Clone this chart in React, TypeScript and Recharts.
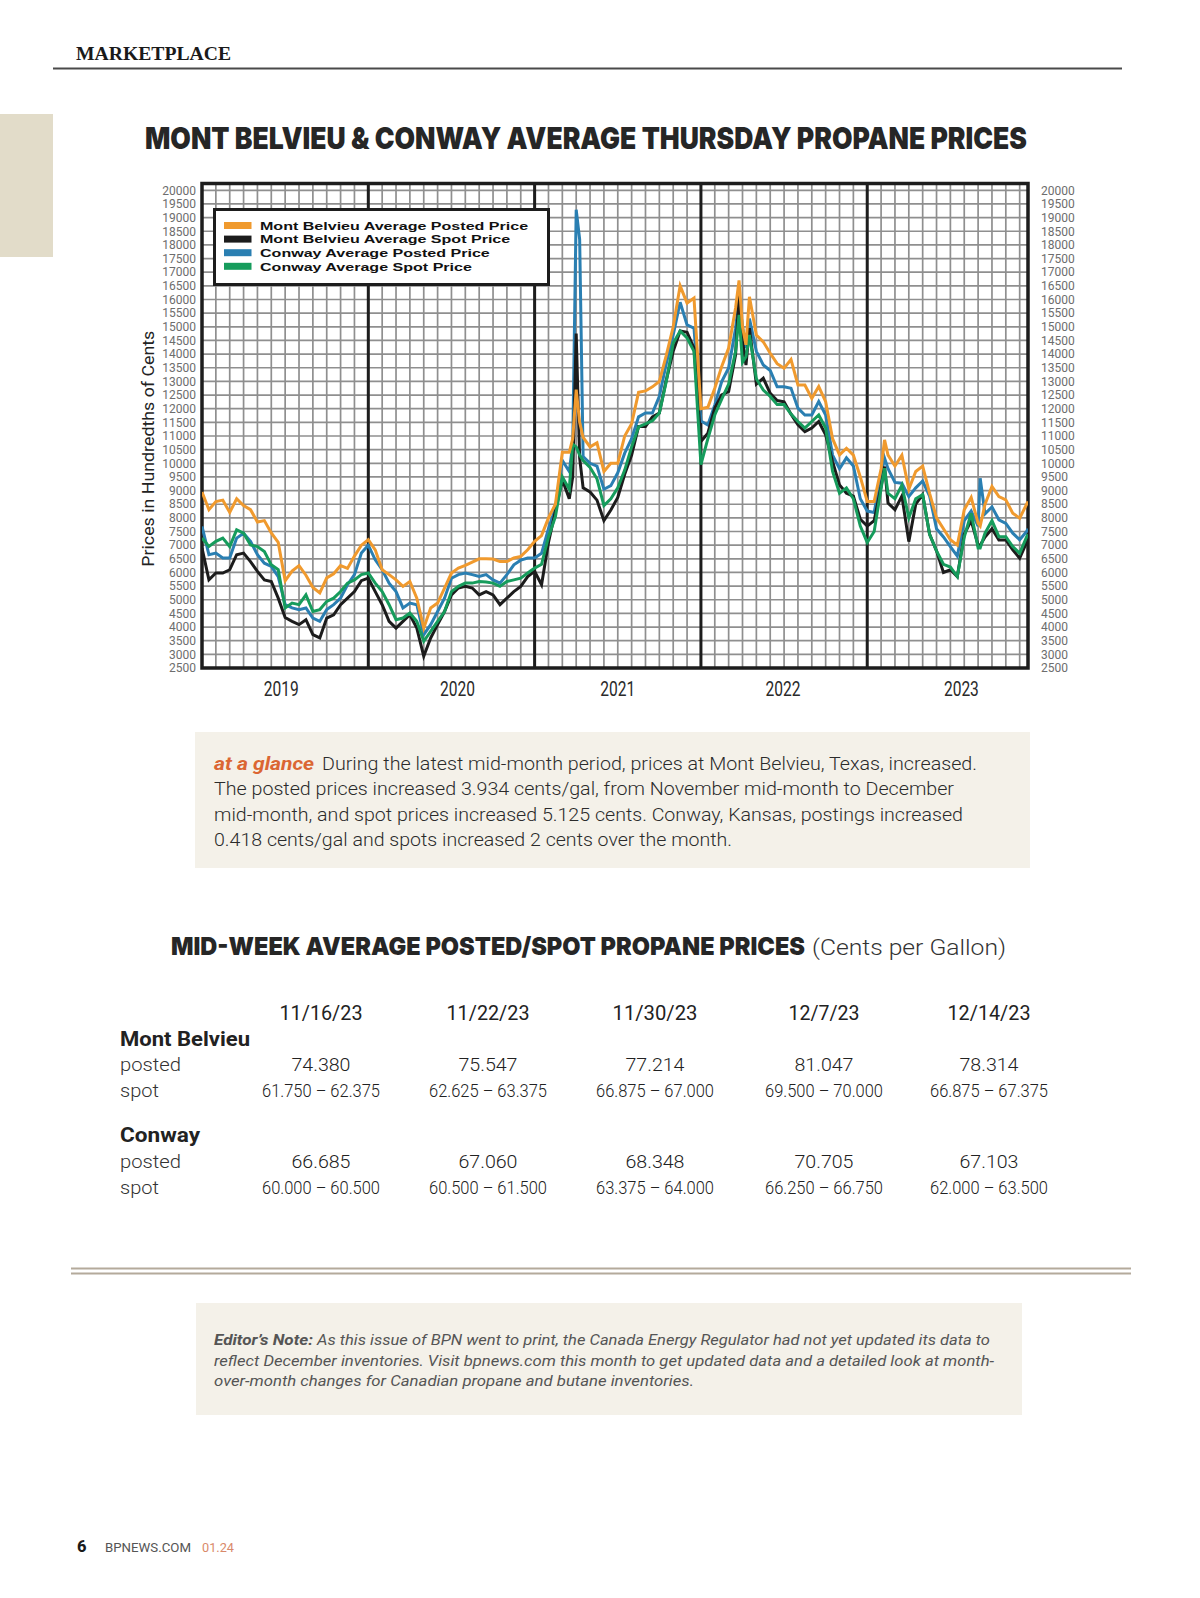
import React from 'react';
import { LineChart, Line, XAxis, YAxis, CartesianGrid, ReferenceLine, ReferenceArea, Legend } from 'recharts';

// x position of each reading, in months from the left edge of the grid (5 year panels of 12 months)
const months = [
  0, 0.5, 1, 1.5, 2, 2.5, 3, 3.5, 4, 4.5, 5, 5.5, 6, 6.5, 7, 7.5, 8, 8.5, 9, 9.5, 10, 10.5, 11, 11.5, 12,
  12.5, 13, 13.5, 14, 14.5, 15, 15.5, 16, 16.5, 17, 17.5, 18, 18.5, 19, 19.5, 20, 20.5, 21, 21.5, 22, 22.5, 23, 23.5, 24,
  24.5, 25, 25.5, 26, 26.5, 26.75, 27, 27.25, 27.5, 28, 28.5, 29, 29.5, 30, 30.5, 31, 31.5, 32, 32.5, 33, 33.5, 34, 34.5, 35, 35.5, 36,
  36.5, 37, 37.5, 38, 38.5, 38.75, 39, 39.25, 39.5, 40, 40.5, 41, 41.5, 42, 42.5, 43, 43.5, 44, 44.5, 45, 45.5, 46, 46.5, 47, 47.5, 48,
  48.5, 49, 49.25, 49.5, 50, 50.5, 51, 51.5, 52, 52.5, 53, 53.5, 54, 54.5, 55, 55.5, 56, 56.15, 56.5, 57, 57.5, 58, 58.5, 59, 59.5, 59.6,
];

const mbPosted = [
  8950, 8300, 8600, 8650, 8200, 8700, 8450, 8300, 7850, 7900, 7450, 7100, 5700, 6050, 6250, 5900, 5450, 5250, 5800, 5950, 6250, 6150, 6600, 7000, 7200,
  6830, 6100, 5920, 5730, 5490, 5670, 5060, 3960, 4700, 4880, 5430, 5980, 6160, 6260, 6380, 6500, 6500, 6490, 6400, 6400, 6530, 6590, 6830, 7140,
  7350, 8000, 8500, 10400, 10400, 10900, 12700, 11500, 10950, 10600, 10750, 9700, 10000, 10000, 11000, 11450, 12600, 12650, 12800, 13000, 13950, 15000, 16500, 15870, 16050, 12000,
  12050, 12750, 13550, 14220, 15690, 16700, 15000, 14340, 16100, 14700, 14450, 14030, 13650, 13480, 13800, 12870, 12870, 12380, 12810, 12260, 10900, 10310, 10550, 10300, 9500, 8600,
  8600, 9800, 10860, 10300, 9900, 10300, 9050, 9700, 9900, 8900, 8000, 7600, 7200, 7000, 8300, 8750, 7800, 7700, 8500, 9150, 8780, 8660, 8170, 7990, 8500, 8600,
];

const mbSpot = [
  6890, 5730, 5980, 5980, 6100, 6650, 6710, 6400, 6040, 5730, 5670, 5060, 4350, 4210, 4090, 4270, 3720, 3600, 4330, 4450, 4820, 5060, 5300, 5700, 5790,
  5300, 4820, 4210, 3960, 4210, 4450, 3960, 2930, 3600, 4090, 4570, 5180, 5430, 5490, 5430, 5180, 5300, 5180, 4820, 5060, 5300, 5490, 5850, 6040,
  5550, 7100, 8250, 9400, 8700, 9500, 14750, 10200, 9100, 8950, 8650, 7900, 8290, 8750, 9600, 10300, 11350, 11350, 11700, 11840, 13050, 14100, 14850, 14800, 14220, 10800,
  11100, 12020, 12510, 12630, 13970, 16170, 14500, 13600, 14950, 12900, 13120, 12560, 12300, 12250, 11800, 11410, 11160, 11290, 11530, 11040, 10060, 9210, 8900, 8800, 7950, 7700,
  7900, 9150, 9880, 8540, 8300, 8800, 7130, 8500, 8850, 7400, 6790, 6000, 6100, 5850, 7400, 7900, 7000, 7000, 7300, 7600, 7190, 7190, 6830, 6520, 7100, 7200,
];

const cwPosted = [
  7685, 6650, 6710, 6530, 6530, 7260, 7440, 7140, 6650, 6340, 6220, 5850, 4820, 4700, 4640, 4700, 4330, 4210, 4640, 4820, 5060, 5550, 5920, 6710, 7000,
  6465, 6100, 5610, 5300, 4700, 4880, 4820, 3720, 4090, 4570, 5060, 5790, 5920, 5980, 5920, 5850, 5920, 5730, 5610, 5920, 6280, 6450, 6530, 6530,
  6700, 7600, 8350, 10100, 9700, 10700, 19290, 18200, 10250, 10000, 9900, 9050, 9180, 9650, 10370, 10900, 11700, 11840, 11840, 12450, 13650, 14700, 15900, 15070, 14950, 11550,
  11400, 12140, 12990, 13490, 14950, 16050, 15000, 14220, 15300, 14100, 13600, 13400, 12800, 12800, 12750, 12020, 11770, 11770, 12260, 11770, 10300, 9800, 10200, 9900, 8700, 8250,
  8200, 9550, 10190, 9800, 9300, 9270, 8780, 9100, 9350, 8800, 7600, 7300, 6950, 6600, 7900, 8250, 7700, 9450, 8150, 8400, 7930, 7800, 7440, 7200, 7500, 7600,
];

const cwSpot = [
  7260, 6950, 7140, 7260, 6950, 7560, 7440, 7010, 6950, 6770, 6280, 6100, 4700, 4880, 4820, 5180, 4570, 4640, 4940, 5060, 5300, 5610, 5730, 5920, 5980,
  5610, 5300, 4820, 4270, 4330, 4510, 4210, 3480, 3840, 4210, 4570, 5300, 5490, 5610, 5610, 5670, 5650, 5610, 5490, 5670, 5730, 5790, 5980, 6160,
  6300, 7300, 8050, 9500, 9050, 10700, 10600, 10300, 10100, 9850, 9430, 8450, 8700, 9100, 9750, 10600, 11330, 11440, 11560, 11840, 13000, 14400, 14850, 14590, 14100, 9950,
  10900, 11770, 12350, 12900, 14100, 15440, 13700, 13900, 14700, 13100, 12680, 12450, 12150, 12150, 11800, 11530, 11290, 11530, 11770, 11290, 9700, 8900, 9100, 8700, 7700, 7100,
  7500, 9080, 9820, 8900, 8700, 9200, 8000, 8700, 8850, 7400, 6790, 6300, 6200, 5850, 7300, 8170, 6900, 6900, 7440, 7900, 7310, 7310, 6950, 6700, 7300, 7400,
];

const yTicks = [
  2500, 3000, 3500, 4000, 4500, 5000, 5500, 6000, 6500, 7000, 7500, 8000, 8500, 9000, 9500, 10000, 10500, 11000,
  11500, 12000, 12500, 13000, 13500, 14000, 14500, 15000, 15500, 16000, 16500, 17000, 17500, 18000, 18500, 19000, 19500, 20000,
];
const yearTicks = [6, 18, 30, 42, 54];
const yearLabels = ['2019', '2020', '2021', '2022', '2023'];
const yearDividers = [12, 24, 36, 48];
const monthTicks = Array.from({ length: 60 }, (_, i) => i);

const tableDates = ['11/16/23', '11/22/23', '11/30/23', '12/7/23', '12/14/23'];
const mbPostedTbl = ['74.380', '75.547', '77.214', '81.047', '78.314'];
const mbSpotTbl = ['61.750 – 62.375', '62.625 – 63.375', '66.875 – 67.000', '69.500 – 70.000', '66.875 – 67.375'];
const cwPostedTbl = ['66.685', '67.060', '68.348', '70.705', '67.103'];
const cwSpotTbl = ['60.000 – 60.500', '60.500 – 61.500', '63.375 – 64.000', '66.250 – 66.750', '62.000 – 63.500'];

const ORANGE = '#f09a2e';
const BLACK = '#1c1c1c';
const BLUE = '#2a7fb2';
const GREEN = '#169c5c';

const legendItems = [
  { label: 'Mont Belvieu Average Posted Price', color: ORANGE },
  { label: 'Mont Belvieu Average Spot Price', color: BLACK },
  { label: 'Conway Average Posted Price', color: BLUE },
  { label: 'Conway Average Spot Price', color: GREEN },
];

const data = months.map((m, i) => ({
  m,
  mbPosted: mbPosted[i],
  mbSpot: mbSpot[i],
  cwPosted: cwPosted[i],
  cwSpot: cwSpot[i],
}));

const X_MAX = 59.6;
const Y_MIN = 2500;
const Y_MAX = 20250;
const SANS = 'Roboto, "Liberation Sans", sans-serif';
const HEAVY = 'Inter, Roboto, sans-serif';

// year labels sit a little off the panel centres in the original
const yearNudge = [-4, 6, 0, -1, 11];

const YearTick = (props: any) => {
  const { x, y, payload } = props;
  const i = yearTicks.indexOf(payload.value);
  if (i < 0) return <g />;
  return (
    <text x={x + yearNudge[i]} y={y + 27.5} textAnchor="middle" fontSize={20} fontFamily={SANS}
      fill="#2a2a2a" textLength={35} lengthAdjust="spacingAndGlyphs">
      {yearLabels[i]}
    </text>
  );
};

const YTitle = (props: any) => {
  const vb = props.viewBox || { x: 22, y: 13.5, width: 60, height: 484.5 };
  const cx = vb.x + 11.5;
  const cy = vb.y + vb.height / 2 + 23;
  return (
    <text x={cx} y={cy} transform={`rotate(-90 ${cx} ${cy})`} textAnchor="middle" fontSize={16}
      fontFamily={SANS} fill="#222" textLength={236} lengthAdjust="spacingAndGlyphs">
      Prices in Hundredths of Cents
    </text>
  );
};

const LegendBox = () => (
  <div style={{ width: 337, height: 78, boxSizing: 'border-box', border: '3px solid #1d1d1d', background: '#fff' }}>
    <svg width={331} height={72} style={{ display: 'block' }}>
      {legendItems.map((it, i) => (
        <g key={it.label}>
          <rect x={8} y={11 + i * 13.6} width={27.5} height={7} fill={it.color} />
          <g transform={`translate(44 ${18.8 + i * 13.6}) scale(1.46 1)`}>
            <text x={0} y={0} fontSize={11} fontWeight={700} fontFamily='"Liberation Sans", Arial, sans-serif' fill="#111">
              {it.label}
            </text>
          </g>
        </g>
      ))}
    </svg>
  </div>
);

type TxtProps = {
  x: number; y: number; w?: number; size: number; weight?: number; italic?: boolean;
  fill?: string; family?: string; anchor?: 'start' | 'middle' | 'end'; children: React.ReactNode;
};

const Txt = ({ x, y, w, size, weight = 400, italic, fill = '#222', family = SANS, anchor = 'start', children }: TxtProps) => (
  <text x={x} y={y} fontSize={size} fontWeight={weight} fontStyle={italic ? 'italic' : 'normal'} fill={fill}
    fontFamily={family} textAnchor={anchor} textLength={w} lengthAdjust={w ? 'spacingAndGlyphs' : undefined}>
    {children}
  </text>
);

const colX = [321, 488, 655, 824, 989];
const dateW = [83, 83, 85, 71, 83];

const PriceChart = () => (
  <LineChart width={980} height={545} data={data} margin={{ top: 13.5, right: 12, bottom: 5, left: 22 }}>
    <CartesianGrid stroke="#8f8f8f" strokeWidth={1.7} />
    <XAxis dataKey="m" type="number" domain={[0, X_MAX]} ticks={monthTicks} interval={0} allowDataOverflow
      tick={<YearTick />} tickLine={false} axisLine={false} tickSize={0} tickMargin={0} height={42} />
    <YAxis type="number" domain={[Y_MIN, Y_MAX]} ticks={yTicks} interval={0} allowDataOverflow width={60}
      tickLine={false} axisLine={false} tickSize={4} tickMargin={2}
      tick={{ fontSize: 12, fill: '#6d6d6d', fontFamily: SANS }} label={YTitle} />
    <YAxis yAxisId="right" orientation="right" type="number" domain={[Y_MIN, Y_MAX]} ticks={yTicks} interval={0}
      allowDataOverflow width={60} tickLine={false} axisLine={false} tickSize={8} tickMargin={5}
      tick={{ fontSize: 12, fill: '#6d6d6d', fontFamily: SANS }} />
    {yearDividers.map((d) => (
      <ReferenceLine key={d} x={d} stroke="#1d1d1d" strokeWidth={3} />
    ))}
    <Line type="linear" dataKey="cwPosted" stroke={BLUE} strokeWidth={3} dot={false} isAnimationActive={false} />
    <Line type="linear" dataKey="mbSpot" stroke={BLACK} strokeWidth={3} dot={false} isAnimationActive={false} />
    <Line type="linear" dataKey="cwSpot" stroke={GREEN} strokeWidth={3} dot={false} isAnimationActive={false} />
    <Line type="linear" dataKey="mbPosted" stroke={ORANGE} strokeWidth={3} dot={false} isAnimationActive={false} />
    <ReferenceArea x1={0} x2={X_MAX} y1={Y_MIN} y2={Y_MAX} fill="none" stroke="#1d1d1d" strokeWidth={3.5} ifOverflow="visible" />
    <Legend layout="vertical" align="center" verticalAlign="middle" content={<LegendBox />}
      wrapperStyle={{ left: 93, top: 38, width: 337, height: 78 }} />
  </LineChart>
);

export default function App() {
  return (
    <div style={{ position: 'relative', width: 1200, height: 1598, background: '#fff', overflow: 'hidden' }}>
      <style>{'body{margin:0;}'}</style>
      <svg width={1200} height={1598} style={{ position: 'absolute', left: 0, top: 0 }}>
        <rect x={0} y={114} width={53} height={143} fill="#e2dcc9" />
        <rect x={53} y={67.5} width={1069} height={2} fill="#4a4a4a" />
        <Txt x={76} y={59.5} w={155} size={19.5} weight={700} family='"Liberation Serif", serif' fill="#1a1a1a">MARKETPLACE</Txt>
        <Txt x={145} y={149} w={882} size={30} weight={900} family={HEAVY} fill="#262626">
          MONT BELVIEU &amp; CONWAY AVERAGE THURSDAY PROPANE PRICES
        </Txt>

        <rect x={195} y={732} width={835} height={136} fill="#f4f1e9" />
        <Txt x={214} y={769.5} w={100} size={17.5} weight={700} italic fill="#db6633">at a glance</Txt>
        <Txt x={322} y={769.5} w={655} size={17.5} weight={300} fill="#2b2b2b">During the latest mid-month period, prices at Mont Belvieu, Texas, increased.</Txt>
        <Txt x={214} y={795} w={740} size={17.5} weight={300} fill="#2b2b2b">The posted prices increased 3.934 cents/gal, from November mid-month to December</Txt>
        <Txt x={214} y={820.5} w={749} size={17.5} weight={300} fill="#2b2b2b">mid-month, and spot prices increased 5.125 cents. Conway, Kansas, postings increased</Txt>
        <Txt x={214} y={846} w={518} size={17.5} weight={300} fill="#2b2b2b">0.418 cents/gal and spots increased 2 cents over the month.</Txt>

        <g transform="translate(171 955) scale(1 1.25)">
          <text x={0} y={0} fontSize={20} fontWeight={900} fontFamily={HEAVY} fill="#262626"
            textLength={634} lengthAdjust="spacingAndGlyphs">
            MID-WEEK AVERAGE POSTED/SPOT PROPANE PRICES
          </text>
        </g>
        <Txt x={812} y={955} w={194} size={22} weight={300} fill="#333">(Cents per Gallon)</Txt>

        {tableDates.map((d, i) => (
          <Txt key={d} x={colX[i]} y={1019.5} w={dateW[i]} size={19.5} anchor="middle" fill="#222">{d}</Txt>
        ))}
        <Txt x={120} y={1045.5} w={130} size={20} weight={700} fill="#222">Mont Belvieu</Txt>
        <Txt x={120} y={1071} w={61} size={19} weight={300} fill="#333">posted</Txt>
        <Txt x={120} y={1096.5} w={39} size={19} weight={300} fill="#333">spot</Txt>
        {mbPostedTbl.map((v, i) => (
          <Txt key={'mp' + i} x={colX[i]} y={1071} w={59} size={18.5} weight={300} anchor="middle" fill="#222">{v}</Txt>
        ))}
        {mbSpotTbl.map((v, i) => (
          <Txt key={'ms' + i} x={colX[i]} y={1096.5} w={118} size={18.5} weight={300} anchor="middle" fill="#222">{v}</Txt>
        ))}
        <Txt x={120} y={1142} w={80} size={20} weight={700} fill="#222">Conway</Txt>
        <Txt x={120} y={1168} w={61} size={19} weight={300} fill="#333">posted</Txt>
        <Txt x={120} y={1193.5} w={39} size={19} weight={300} fill="#333">spot</Txt>
        {cwPostedTbl.map((v, i) => (
          <Txt key={'cp' + i} x={colX[i]} y={1168} w={59} size={18.5} weight={300} anchor="middle" fill="#222">{v}</Txt>
        ))}
        {cwSpotTbl.map((v, i) => (
          <Txt key={'cs' + i} x={colX[i]} y={1193.5} w={118} size={18.5} weight={300} anchor="middle" fill="#222">{v}</Txt>
        ))}

        <rect x={71} y={1267.5} width={1060} height={2} fill="#b4aa9b" />
        <rect x={71} y={1272.5} width={1060} height={2} fill="#b4aa9b" />

        <rect x={196} y={1303} width={826} height={112} fill="#f4f1e9" />
        <Txt x={214} y={1345} w={99} size={15} weight={700} italic fill="#555">Editor’s Note:</Txt>
        <Txt x={317} y={1345} w={673} size={15} italic fill="#555">As this issue of BPN went to print, the Canada Energy Regulator had not yet updated its data to</Txt>
        <Txt x={214} y={1365.5} w={780} size={15} italic fill="#555">reflect December inventories. Visit bpnews.com this month to get updated data and a detailed look at month-</Txt>
        <Txt x={214} y={1386} w={480} size={15} italic fill="#555">over-month changes for Canadian propane and butane inventories.</Txt>

        <Txt x={77} y={1552} w={9.5} size={17} weight={800} fill="#1a1a1a">6</Txt>
        <Txt x={105} y={1551.5} w={86} size={12} fill="#555">BPNEWS.COM</Txt>
        <Txt x={202} y={1551.5} w={32} size={12} fill="#d9896a">01.24</Txt>
      </svg>
      <div style={{ position: 'absolute', left: 120, top: 170 }}>
        <PriceChart />
      </div>
    </div>
  );
}
